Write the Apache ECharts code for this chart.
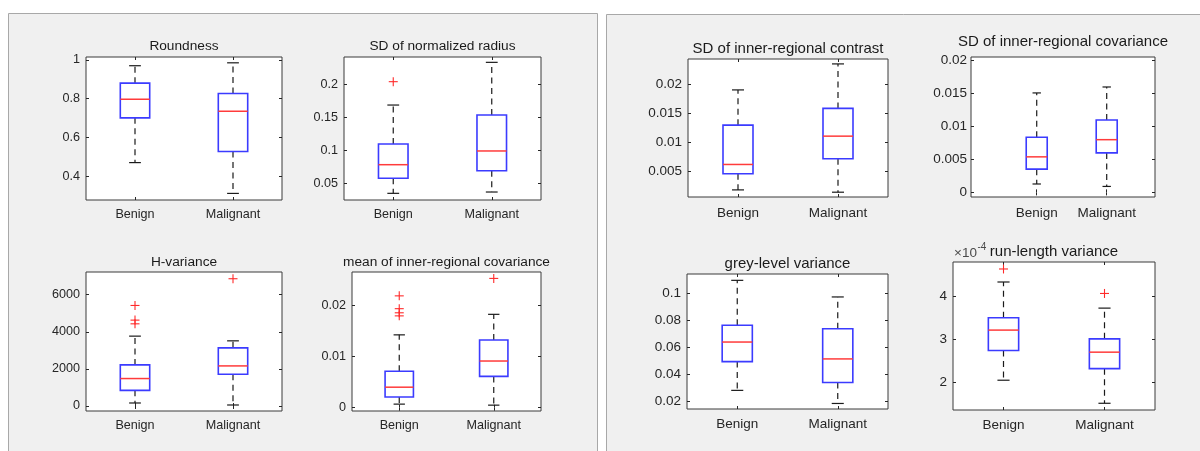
<!DOCTYPE html>
<html><head><meta charset="utf-8">
<script src="https://cdn.jsdelivr.net/npm/echarts@6/dist/echarts.min.js"></script>
<style>html,body{margin:0;padding:0;background:#fff}#c{width:1200px;height:451px}</style>
</head><body><div id="c"></div>
<script>
// ---------- DATA ----------
const categories = ['Benign', 'Malignant'];
// each group: [lower whisker, Q1, median, Q3, upper whisker]
const roundnessStats = [[0.470, 0.701, 0.797, 0.880, 0.970], [0.311, 0.527, 0.735, 0.827, 0.985]];
const roundnessOutliers = [[], []];
const roundnessTicks = [0.4, 0.6, 0.8, 1];

const radiusSdStats = [[0.0348, 0.0576, 0.0782, 0.1095, 0.1686], [0.0368, 0.0690, 0.0990, 0.1535, 0.2333]];
const radiusSdOutliers = [[0.204], []];
const radiusSdTicks = [0.05, 0.1, 0.15, 0.2];

const hVarianceStats = [[162, 844, 1480, 2216, 3768], [54, 1712, 2162, 3135, 3514]];
const hVarianceOutliers = [[5422, 4632, 4432], [6864]];
const hVarianceTicks = [0, 2000, 4000, 6000];

const meanCovStats = [[0.0007, 0.0021, 0.0040, 0.0071, 0.0142], [0.0005, 0.0061, 0.0091, 0.0132, 0.0182]];
const meanCovOutliers = [[0.0218, 0.0193, 0.0185, 0.0179], [0.0252]];
const meanCovTicks = [0, 0.01, 0.02];

const contrastSdStats = [[0.0018, 0.0046, 0.0062, 0.0130, 0.0191], [0.0014, 0.0072, 0.0111, 0.0159, 0.0236]];
const contrastSdOutliers = [[], []];
const contrastSdTicks = [0.005, 0.01, 0.015, 0.02];

const covSdStats = [[0.00127, 0.00352, 0.00538, 0.00834, 0.01506], [0.0009, 0.00598, 0.00798, 0.01095, 0.01596]];
const covSdOutliers = [[], []];
const covSdTicks = [0, 0.005, 0.01, 0.015, 0.02];

const greyVarStats = [[0.0284, 0.0497, 0.0642, 0.0766, 0.1099], [0.0187, 0.0342, 0.0517, 0.0741, 0.0976]];
const greyVarOutliers = [[], []];
const greyVarTicks = [0.02, 0.04, 0.06, 0.08, 0.1];

// run-length variance, in units of 1e-4
const runLenStats = [[2.047, 2.735, 3.21, 3.495, 4.326], [1.512, 2.316, 2.698, 3.007, 3.72]];
const runLenOutliers = [[4.628], [4.06]];
const runLenTicks = [2, 3, 4];

// ---------- LAYOUT ----------
const FONT = "'Liberation Sans', Arial, sans-serif";
const panels = [
  {title: 'Roundness', stats: roundnessStats, out: roundnessOutliers, ticks: roundnessTicks,
   y: [0.277, 1.015], x: [0.5, 2.5], g: [86, 57, 196, 143], ty: 46, tf: 13.7, lf: 12.6, lm: 6, xm: 8},
  {title: 'SD of normalized radius', stats: radiusSdStats, out: radiusSdOutliers, ticks: radiusSdTicks,
   y: [0.0247, 0.2414], x: [0.5, 2.5], g: [344, 57, 197, 143], ty: 46, tf: 13.7, lf: 12.6, lm: 6, xm: 8},
  {title: 'H-variance', stats: hVarianceStats, out: hVarianceOutliers, ticks: hVarianceTicks,
   y: [-270, 7227], x: [0.5, 2.5], g: [86, 272, 196, 139], ty: 262, tf: 13.7, lf: 12.6, lm: 6, xm: 8},
  {title: 'mean of inner-regional covariance', stats: meanCovStats, out: meanCovOutliers, ticks: meanCovTicks,
   y: [-0.00064, 0.02645], x: [0.5, 2.5], g: [352, 272, 189, 139], ty: 262, tf: 13.7, lf: 12.6, lm: 6, xm: 8},
  {title: 'SD of inner-regional contrast', stats: contrastSdStats, out: contrastSdOutliers, ticks: contrastSdTicks,
   y: [0.00057, 0.02445], x: [0.5, 2.5], g: [688, 59, 200, 138], ty: 49, tf: 15, lf: 13.5, lm: 6, xm: 9},
  {title: 'SD of inner-regional covariance', stats: covSdStats, out: covSdOutliers, ticks: covSdTicks,
   y: [-0.0007, 0.0205], x: [0.061, 2.69], g: [971, 57, 184, 140], ty: 42, tf: 15, lf: 13.5, lm: 4, xm: 9},
  {title: 'grey-level variance', stats: greyVarStats, out: greyVarOutliers, ticks: greyVarTicks,
   y: [0.0146, 0.1146], x: [0.5, 2.5], g: [687, 274, 201, 135], ty: 264, tf: 15, lf: 13.5, lm: 6, xm: 8.5},
  {title: 'run-length variance', stats: runLenStats, out: runLenOutliers, ticks: runLenTicks,
   y: [1.356, 4.79], x: [0.5, 2.5], g: [953, 262, 202, 148], ty: 252, tf: 15, lf: 13.5, lm: 6, xm: 8}
];

const BOX_W = 0.3, CAP_W = 0.12;
const AX = '#262626';

function renderBox(params, api) {
  const x = api.value(0);
  const lo = api.coord([x, api.value(1)]);
  const q1 = api.coord([x, api.value(2)]);
  const md = api.coord([x, api.value(3)]);
  const q3 = api.coord([x, api.value(4)]);
  const hi = api.coord([x, api.value(5)]);
  const half = api.size([BOX_W, 0])[0] / 2;
  const cap = api.size([CAP_W, 0])[0] / 2;
  const cx = lo[0];
  const dash = {stroke: '#1a1a1a', lineWidth: 1.2, lineDash: [6, 4.5]};
  const solid = {stroke: '#1a1a1a', lineWidth: 1.2};
  return {type: 'group', children: [
    {type: 'line', shape: {x1: cx, y1: q3[1], x2: cx, y2: hi[1]}, style: dash},
    {type: 'line', shape: {x1: cx, y1: q1[1], x2: cx, y2: lo[1]}, style: dash},
    {type: 'line', shape: {x1: cx - cap, y1: hi[1], x2: cx + cap, y2: hi[1]}, style: solid},
    {type: 'line', shape: {x1: cx - cap, y1: lo[1], x2: cx + cap, y2: lo[1]}, style: solid},
    {type: 'rect', shape: {x: cx - half, y: q3[1], width: 2 * half, height: q1[1] - q3[1]},
     style: {fill: 'none', stroke: '#3b3bff', lineWidth: 1.6}},
    {type: 'line', shape: {x1: cx - half, y1: md[1], x2: cx + half, y2: md[1]},
     style: {stroke: '#ff3b3b', lineWidth: 1.5}}
  ]};
}
function renderPlus(params, api) {
  const p = api.coord([api.value(0), api.value(1)]);
  const r = 4.5;
  const st = {stroke: '#ff2a2a', lineWidth: 1.1};
  return {type: 'group', children: [
    {type: 'line', shape: {x1: p[0] - r, y1: p[1], x2: p[0] + r, y2: p[1]}, style: st},
    {type: 'line', shape: {x1: p[0], y1: p[1] - r, x2: p[0], y2: p[1] + r}, style: st}
  ]};
}
const fmt = v => String(+(+v).toPrecision(8));

const grid = [], xAxis = [], yAxis = [], series = [];
const graphic = [
  {type: 'rect', z: -10, shape: {x: 8.5, y: 13.5, width: 589, height: 450}, style: {fill: '#f0f0f0', stroke: '#a8a8a8', lineWidth: 1}},
  {type: 'rect', z: -10, shape: {x: 606.5, y: 14.5, width: 600, height: 450}, style: {fill: '#f0f0f0', stroke: '#a8a8a8', lineWidth: 1}}
];

panels.forEach((p, i) => {
  grid.push({left: p.g[0], top: p.g[1], width: p.g[2], height: p.g[3], show: true,
    backgroundColor: '#ffffff', borderColor: '#3a3a3a', borderWidth: 1, containLabel: false});
  const xBase = {type: 'value', gridIndex: i, min: p.x[0], max: p.x[1], splitLine: {show: false},
    axisLine: {show: false}};
  xAxis.push(Object.assign({}, xBase, {position: 'bottom',
    axisTick: {show: true, inside: true, length: 3, lineStyle: {color: AX}, customValues: [1, 2]},
    axisLabel: {show: true, customValues: [1, 2], formatter: v => categories[Math.round(v) - 1],
      color: AX, fontFamily: FONT, fontSize: p.lf, margin: p.xm}}));
  xAxis.push(Object.assign({}, xBase, {position: 'top',
    axisTick: {show: true, inside: true, length: 3, lineStyle: {color: AX}, customValues: [1, 2]},
    axisLabel: {show: false}}));
  const yBase = {type: 'value', gridIndex: i, min: p.y[0], max: p.y[1], splitLine: {show: false},
    axisLine: {show: false}};
  yAxis.push(Object.assign({}, yBase, {position: 'left',
    axisTick: {show: true, inside: true, length: 3, lineStyle: {color: AX}, customValues: p.ticks},
    axisLabel: {show: true, customValues: p.ticks, formatter: fmt, color: AX,
      fontFamily: FONT, fontSize: p.lf, margin: p.lm}}));
  yAxis.push(Object.assign({}, yBase, {position: 'right',
    axisTick: {show: true, inside: true, length: 3, lineStyle: {color: AX}, customValues: p.ticks},
    axisLabel: {show: false}}));

  series.push({type: 'custom', xAxisIndex: 2 * i, yAxisIndex: 2 * i, renderItem: renderBox,
    encode: {x: 0, y: [1, 2, 3, 4, 5]}, clip: false, silent: true,
    data: p.stats.map((s, k) => [k + 1].concat(s))});
  const pts = [];
  p.out.forEach((arr, k) => arr.forEach(v => pts.push([k + 1, v])));
  series.push({type: 'custom', xAxisIndex: 2 * i, yAxisIndex: 2 * i, renderItem: renderPlus,
    encode: {x: 0, y: 1}, clip: false, silent: true, data: pts});

  graphic.push({type: 'text', z: 100, x: p.g[0] + p.g[2] / 2, y: p.ty,
    style: {text: p.title, font: p.tf + 'px ' + FONT, fill: '#1a1a1a', align: 'center', verticalAlign: 'middle'}});
});
// exponent label for run-length variance
graphic.push({type: 'text', z: 100, x: 954, y: 253,
  style: {text: '\u00d710', font: '13.5px ' + FONT, fill: '#4a4a4a', align: 'left', verticalAlign: 'middle'}});
graphic.push({type: 'text', z: 100, x: 977.5, y: 247,
  style: {text: '-4', font: '10px ' + FONT, fill: '#4a4a4a', align: 'left', verticalAlign: 'middle'}});

const chart = echarts.init(document.getElementById('c'), null, {renderer: 'canvas'});
chart.setOption({animation: false, backgroundColor: '#ffffff', grid, xAxis, yAxis, series, graphic});
</script></body></html>
